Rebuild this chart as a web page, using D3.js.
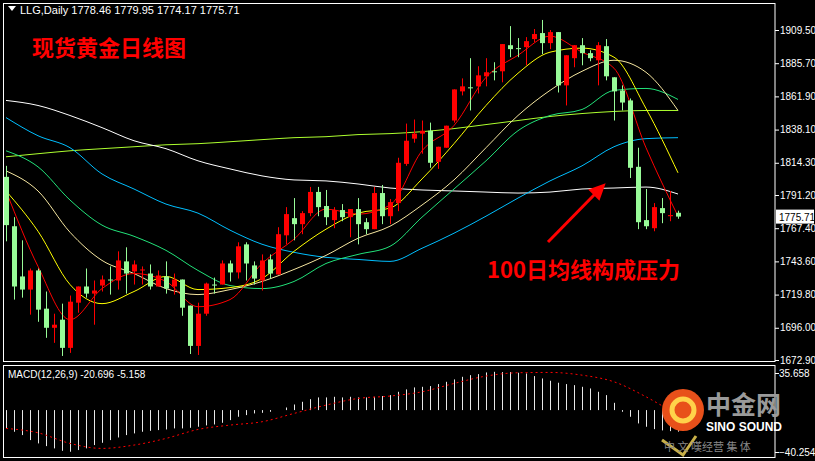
<!DOCTYPE html>
<html><head><meta charset="utf-8">
<script src="https://cdn.jsdelivr.net/npm/d3@7"></script>
<style>body{margin:0;background:#000}svg{display:block}</style>
</head><body>
<svg id="c" width="815" height="461"></svg>
<script>
// 日线 OHLC
const opens = [1804.2,1768.8,1732.8,1723.4,1737.1,1709.7,1696.0,1701.8,1681.6,1714.0,1725.6,1720.5,1726.3,1730.6,1729.9,1743.6,1736.4,1737.1,1734.9,1725.6,1732.8,1725.6,1730.6,1711.9,1683.0,1706.1,1727.0,1727.0,1742.1,1735.7,1755.8,1740.7,1729.9,1745.0,1734.2,1762.3,1774.6,1770.3,1778.2,1793.4,1783.3,1773.2,1780.4,1775.3,1781.1,1771.7,1766.7,1792.6,1776.0,1785.4,1813.5,1831.6,1835.2,1837.3,1815.0,1825.1,1844.6,1865.5,1868.4,1869.1,1876.3,1879.9,1879.9,1898.6,1896.5,1897.2,1903.0,1907.3,1900.1,1908.0,1869.8,1889.3,1898.6,1892.9,1887.8,1897.9,1875.6,1866.2,1859.0,1811.4,1773.2,1767.4,1781.8,1776.0,1778.46];
const highs = [1812.1,1775.3,1758.7,1738.5,1738.5,1722.0,1706.1,1713.3,1719.1,1725.6,1738.5,1729.9,1733.5,1740.0,1750.8,1753.7,1744.3,1740.0,1741.4,1737.1,1743.6,1734.9,1730.6,1711.9,1714.0,1728.4,1732.0,1744.3,1744.3,1757.3,1757.3,1743.6,1748.6,1748.6,1768.1,1782.5,1789.0,1779.6,1797.0,1797.0,1794.8,1782.5,1784.7,1781.1,1789.0,1774.6,1797.0,1798.4,1788.3,1817.9,1842.4,1845.3,1844.6,1843.1,1825.8,1840.9,1866.9,1874.8,1889.3,1883.5,1889.3,1886.4,1899.4,1912.3,1903.7,1904.4,1910.2,1916.7,1909.5,1908.0,1891.4,1898.6,1903.7,1895.0,1900.8,1903.0,1875.6,1869.8,1860.4,1825.1,1795.5,1785.4,1789.0,1794.1,1779.95];
const lows = [1758.0,1716.2,1717.6,1705.4,1700.3,1688.8,1685.2,1675.8,1678.0,1706.8,1717.6,1698.2,1722.0,1719.8,1723.4,1720.5,1727.0,1727.0,1723.4,1725.6,1720.5,1719.8,1704.6,1677.2,1676.5,1704.6,1720.5,1727.0,1729.2,1731.3,1729.9,1727.0,1722.7,1731.3,1734.2,1755.8,1758.7,1763.1,1776.0,1776.0,1769.6,1767.4,1772.4,1760.9,1755.8,1763.1,1766.7,1770.3,1770.3,1779.6,1812.1,1828.7,1820.8,1810.7,1809.9,1825.1,1843.1,1862.6,1851.8,1864.0,1869.1,1873.4,1872.0,1890.0,1890.0,1884.2,1900.8,1892.2,1895.8,1864.7,1855.4,1882.8,1884.2,1887.1,1869.8,1873.4,1844.6,1851.8,1803.4,1766.7,1766.7,1765.2,1771.0,1772.4,1774.17];
const closes = [1769.6,1725.6,1723.4,1737.1,1709.0,1696.0,1698.2,1681.6,1714.7,1725.6,1720.5,1722.7,1730.6,1729.9,1744.3,1734.9,1741.4,1737.8,1725.6,1733.5,1724.1,1730.6,1710.4,1683.0,1706.1,1727.7,1726.3,1742.1,1735.7,1754.4,1742.1,1731.3,1744.3,1734.9,1763.1,1777.5,1770.3,1778.2,1793.4,1782.5,1775.3,1780.4,1775.3,1781.1,1770.3,1766.7,1792.6,1776.0,1786.1,1814.3,1830.1,1835.2,1837.3,1814.3,1825.8,1840.9,1866.9,1869.1,1867.7,1877.0,1879.2,1879.2,1899.4,1895.8,1895.8,1901.5,1906.6,1900.1,1908.0,1869.8,1891.4,1898.6,1892.9,1889.3,1898.6,1876.3,1865.5,1857.5,1810.7,1771.7,1768.8,1782.5,1778.2,1776.8,1775.71];

// 均线 (每 4 根K线取一个点)
const maIdx = [0,4,8,12,16,20,24,28,32,36,40,44,48,52,56,60,64,68,72,76,80,84];
const ma5   = [1794.1,1740.0,1701.8,1724.1,1734.9,1729.2,1711.1,1716.2,1742.1,1759.5,1781.1,1777.5,1784.0,1822.9,1841.0,1875.6,1891.4,1905.1,1893.6,1882.1,1825.1,1776.0];
const ma10  = [1794.1,1765.2,1727.0,1713.3,1722.0,1732.8,1723.4,1724.8,1731.3,1750.8,1766.7,1778.2,1781.8,1802.7,1828.0,1855.4,1878.5,1893.6,1896.5,1890.0,1853.2,1807.1];
const ma20  = [1808.5,1794.1,1764.5,1744.3,1734.9,1724.1,1719.8,1723.4,1729.2,1737.8,1747.9,1760.2,1768.8,1784.0,1802.0,1825.1,1848.2,1866.2,1879.9,1887.8,1879.2,1851.8];
const ma30  = [1822.9,1811.4,1787.6,1769.6,1761.6,1751.5,1737.1,1726.3,1724.1,1729.2,1742.1,1748.6,1754.4,1775.3,1795.5,1815.7,1837.3,1848.2,1852.5,1866.2,1867.6,1859.7];
const ma60  = [1846.7,1833.7,1825.1,1806.3,1795.5,1784.7,1778.2,1766.0,1755.9,1750.1,1746.5,1745.0,1743.6,1753.0,1763.8,1776.0,1789.0,1801.3,1812.1,1825.8,1831.6,1832.3];
const ma100 = [1859.0,1855.4,1848.2,1839.5,1830.1,1824.4,1815.7,1809.9,1804.9,1802.0,1801.3,1799.1,1796.2,1794.8,1794.1,1793.3,1792.6,1793.3,1795.5,1796.2,1796.9,1791.9];
const ma200 = [1818.6,1820.8,1822.9,1824.4,1825.8,1827.2,1828.0,1829.4,1830.9,1832.3,1833.0,1834.5,1835.2,1836.6,1838.8,1841.7,1844.6,1847.5,1849.6,1851.1,1851.8,1851.8];

// MACD
const macdMain = [-17.6,-20.8,-24.0,-28.8,-32.0,-34.6,-36.8,-39.1,-40.0,-38.4,-36.8,-33.6,-31.4,-28.8,-26.3,-24.0,-22.4,-20.8,-19.9,-19.2,-18.6,-17.6,-17.6,-17.0,-16.0,-14.7,-13.8,-12.2,-9.6,-6.4,-4.8,-3.2,-2.6,-1.6,0.0,2.5,5.4,8.0,10.5,12.2,12.2,12.8,12.2,12.8,12.2,12.2,12.8,13.5,14.4,17.6,19.9,21.8,22.4,23.1,25.0,27.2,29.5,32.0,33.6,34.6,36.2,36.8,36.5,36.5,35.9,35.2,32.7,30.4,28.2,26.3,25.0,24.0,22.4,20.8,17.6,14.4,7.0,-1.6,-6.4,-12.8,-16.0,-18.3,-19.5,-20.2,-20.7];
const macdSignal = [-17.6,-21.8,-32.0,-36.8,-33.6,-27.2,-18.6,-14.4,-11.2,-3.2,4.8,11.2,13.5,17.6,25.6,32.7,35.9,36.2,33.6,27.2,12.8,-5.1];

const priceTicks = [1909.50,1885.70,1861.90,1838.10,1814.30,1791.20,1767.40,1743.60,1719.80,1696.00,1672.90];

const svg = d3.select('#c');
const axisX = 775;
const font = '"Liberation Sans", Arial, sans-serif';
const cjk = '"Noto Sans CJK SC"';

const x = d3.scaleLinear().domain([0, 84]).range([6, 678]);
const y = d3.scaleLinear().domain([1672.9, 1909.5]).range([360, 30]);
const ym = d3.scaleLinear().domain([-40.254, 35.658]).range([452, 373]);

// 边框
svg.append('rect').attr('x',3.5).attr('y',3.5).attr('width',axisX-3.5).attr('height',358).attr('fill','none').attr('stroke','#fff');
svg.append('rect').attr('x',3.5).attr('y',365.5).attr('width',axisX-3.5).attr('height',92).attr('fill','none').attr('stroke','#fff');

// 价格轴
svg.append('g').attr('transform',`translate(${axisX},0)`)
  .call(d3.axisRight(y).tickValues(priceTicks).tickFormat(d3.format('.2f')).tickSize(4))
  .call(g => g.select('.domain').remove())
  .call(g => g.selectAll('line').attr('stroke','#fff'))
  .call(g => g.selectAll('text').attr('fill','#fff').attr('font-size',10).attr('font-family',font).attr('x',5));

// 均线
const maLine = d3.line().x((d,i) => x(maIdx[i])).y(d => y(d)).curve(d3.curveMonotoneX);
const mas = [[ma200,'#adff2f'],[ma100,'#ffffff'],[ma60,'#00bfff'],[ma30,'#22e27a'],[ma20,'#f5e6a0'],[ma10,'#ffff00'],[ma5,'#ff0000']];
mas.forEach(([d,c]) => svg.append('path').datum(d).attr('d',maLine).attr('fill','none').attr('stroke',c).attr('stroke-width',1));

// K线
const up = '#ff0000', dn = '#98fb98';
const candles = opens.map((o,i) => ({i, o, h:highs[i], l:lows[i], c:closes[i]}));
const g = svg.append('g');
g.selectAll('line.w').data(candles).enter().append('line')
  .attr('x1', d => x(d.i)+0.5).attr('x2', d => x(d.i)+0.5)
  .attr('y1', d => y(d.h)).attr('y2', d => y(d.l))
  .attr('stroke', d => d.c >= d.o ? up : dn);
g.selectAll('rect.b').data(candles).enter().append('rect')
  .attr('x', d => x(d.i)-2).attr('width', 5)
  .attr('y', d => y(Math.max(d.o,d.c)))
  .attr('height', d => Math.max(1, y(Math.min(d.o,d.c)) - y(Math.max(d.o,d.c))))
  .attr('fill', d => d.c >= d.o ? up : dn);

// 当前价标签
const last = closes[closes.length-1];
svg.append('rect').attr('x',axisX+1).attr('y',y(last)-7).attr('width',38).attr('height',14).attr('fill','#fff');
svg.append('text').attr('x',axisX+4).attr('y',y(last)+4).text(last.toFixed(2)).attr('fill','#000').attr('font-size',10).attr('font-family',font);

// 文字
svg.append('path').attr('d','M8,6 L16,6 L12,11 Z').attr('fill','#fff');
svg.append('text').attr('x',20).attr('y',14).attr('fill','#fff').attr('font-size',11).attr('font-family',font)
  .text('LLG,Daily  1778.46 1779.95 1774.17 1775.71');
svg.append('text').attr('x',32).attr('y',56).attr('fill','#ff0000').attr('font-size',22).attr('font-weight','bold')
  .attr('font-family',cjk).text('现货黄金日线图');
svg.append('text').attr('x',487).attr('y',278).attr('fill','#ff0000').attr('font-size',22).attr('font-weight','bold')
  .attr('font-family',cjk).text('100日均线构成压力');
// 箭头
svg.append('line').attr('x1',548).attr('y1',242).attr('x2',596).attr('y2',193).attr('stroke','#ff0000').attr('stroke-width',3);
svg.append('path').attr('d','M604,185 L590,190 L599,199 Z').attr('fill','#ff0000').attr('stroke','#ff0000').attr('stroke-width',2);

// MACD
svg.append('g').selectAll('line').data(macdMain).enter().append('line')
  .attr('x1',(d,i) => x(i)+0.5).attr('x2',(d,i) => x(i)+0.5)
  .attr('y1', ym(0)).attr('y2', d => ym(d)).attr('stroke','#e8e8e8');
svg.append('path').datum(macdSignal)
  .attr('d', d3.line().x((d,i) => x(maIdx[i])).y(d => ym(d)).curve(d3.curveMonotoneX))
  .attr('fill','none').attr('stroke','#ff0000').attr('stroke-dasharray','2,3');
svg.append('text').attr('x',8).attr('y',378).attr('fill','#fff').attr('font-size',10).attr('font-family',font)
  .text('MACD(12,26,9) -20.696 -5.158');
svg.append('g').attr('transform',`translate(${axisX},0)`)
  .call(d3.axisRight(ym).tickValues([35.658,-40.254]).tickFormat(d3.format('.3f')).tickSize(4))
  .call(g => g.select('.domain').remove())
  .call(g => g.selectAll('line').attr('stroke','#fff'))
  .call(g => g.selectAll('text').attr('fill','#fff').attr('font-size',10).attr('font-family',font).attr('x',4));

// 中金网 logo
const logo = svg.append('g');
logo.append('circle').attr('cx',683).attr('cy',410).attr('r',21).attr('fill','#e8501a');
logo.append('circle').attr('cx',683).attr('cy',410).attr('r',11).attr('fill','none').attr('stroke','#ffd24a').attr('stroke-width',5);
logo.append('path').attr('d','M662,440 L683,455 L696,436').attr('fill','none').attr('stroke','#c8b048').attr('stroke-width',3);
logo.append('text').attr('x',706).attr('y',414).attr('fill','#9a9a9a').attr('font-size',25).attr('font-weight','bold')
  .attr('font-family',cjk).text('中金网');
logo.append('text').attr('x',706).attr('y',431).attr('fill','#fff').attr('font-size',12).attr('font-weight','bold')
  .attr('font-family',font).text('SINO SOUND');
logo.append('text').attr('x',664).attr('y',451).attr('fill','#888').attr('font-size',11)
  .attr('font-family',cjk).text('中 文 嘆经营 集 体');
</script>
</body></html>
